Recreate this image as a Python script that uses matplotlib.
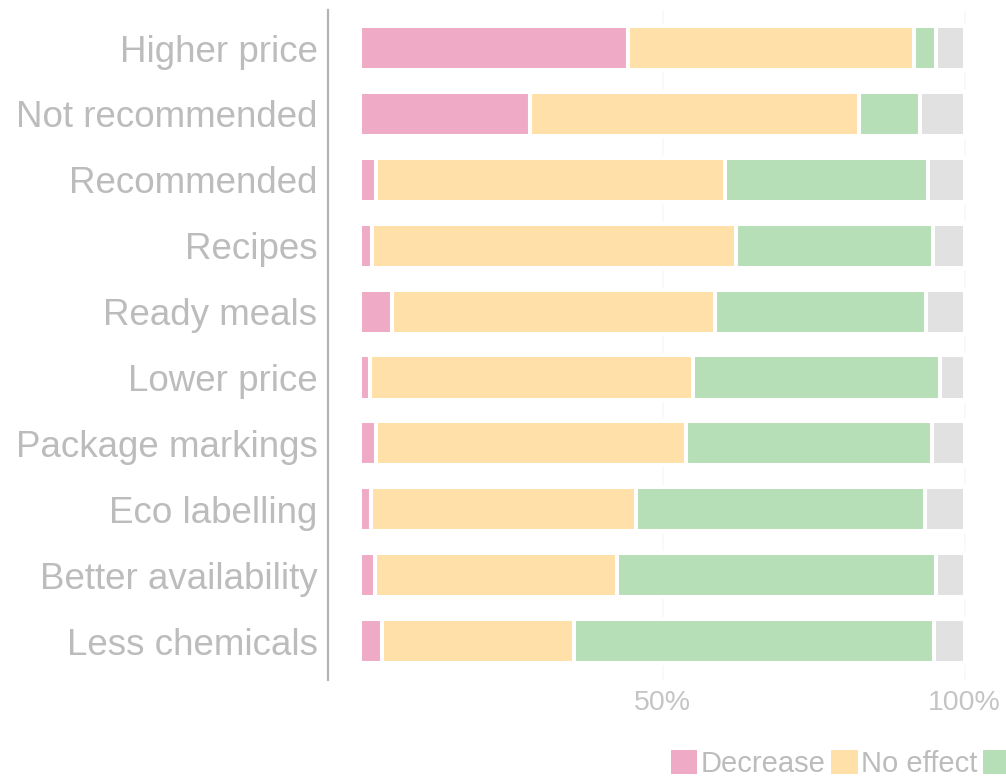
import numpy as np
import matplotlib.pyplot as plt
from matplotlib.patches import Patch

plt.rcParams['font.family'] = ['Liberation Sans', 'DejaVu Sans']

categories = ['Higher price', 'Not recommended', 'Recommended', 'Recipes',
              'Ready meals', 'Lower price', 'Package markings', 'Eco labelling',
              'Better availability', 'Less chemicals']
decrease = [44.3, 28.1, 2.6, 1.9, 5.2, 1.5, 2.5, 1.8, 2.4, 3.5]
no_effect = [47.3, 54.5, 57.8, 60.3, 53.5, 53.5, 51.4, 43.8, 40.1, 31.8]
increase = [3.7, 10.1, 33.6, 32.6, 35.0, 40.9, 40.7, 47.8, 52.7, 59.6]
no_answer = [4.7, 7.3, 6.0, 5.2, 6.3, 4.1, 5.4, 6.6, 4.8, 5.1]

series = [('Decrease', decrease, '#efabc6'),
          ('No effect', no_effect, '#ffe0a8'),
          ('Increase', increase, '#b7dfb7'),
          ('No answer', no_answer, '#e1e1e1')]

W, H = 1006, 781
fig = plt.figure(figsize=(W / 100, H / 100), dpi=100)
ax = fig.add_axes([328 / W, 1 - 680 / H, (W - 328) / W, (680 - 10) / H])

y = np.arange(len(categories))
left = np.zeros(len(categories))
for name, vals, col in series:
    vals = np.array(vals)
    ax.barh(y, vals, left=left, height=0.67, color=col,
            edgecolor='white', linewidth=2.9, zorder=2)
    left += vals

# faint vertical gridlines
for gx in (50, 100):
    ax.axvline(gx, color='#f8f8f8', lw=1.2, zorder=0)

ax.set_xlim(-5.38, 106.87)
ax.set_ylim(9.59, -0.577)

ax.set_yticks(y)
ax.set_yticklabels(categories, fontsize=26.5, color='#bcbcbc')
ax.set_xticks([50, 100])
ax.set_xticklabels(['50%', '100%'], fontsize=20.5, color='#c4c4c4')
ax.tick_params(axis='y', length=0, pad=7.5)
ax.tick_params(axis='x', length=0, pad=7)

for s in ('top', 'right', 'bottom'):
    ax.spines[s].set_visible(False)
ax.spines['left'].set_color('#b4b4b4')
ax.spines['left'].set_linewidth(1.6)

# legend runs off the right edge; only the first two entries carry text
handles = [Patch(facecolor=col, edgecolor='none') for _, _, col in series[:3]]
labels = ['Decrease', 'No effect', '']
fig.legend(handles, labels, loc='lower left', bbox_to_anchor=(671 / W, 3 / H),
           ncol=3, frameon=False, fontsize=21, labelcolor='#bcbcbc',
           handlelength=0.9, handleheight=0.9, handletextpad=0.12,
           columnspacing=0.2, borderpad=0, borderaxespad=0)

fig.savefig('out.png', dpi=100, facecolor='white')
